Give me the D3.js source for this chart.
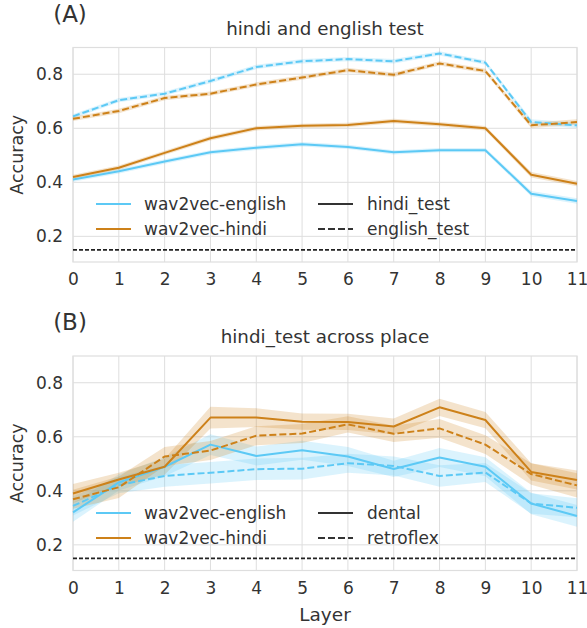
<!DOCTYPE html>
<html>
<head>
<meta charset="utf-8">
<script src="https://cdn.jsdelivr.net/npm/d3@7/dist/d3.min.js"></script>
<style>
  html, body { margin: 0; padding: 0; background: #fff; }
  svg { display: block; font-family: "DejaVu Sans", sans-serif; }
</style>
</head>
<body>
<svg id="chart" width="587" height="628"></svg>
<script>
// ---------- data ----------
const layers = [0, 1, 2, 3, 4, 5, 6, 7, 8, 9, 10, 11];
const yTicks = [0.2, 0.4, 0.6, 0.8];
const chance = 0.15;
const models = ["wav2vec-english", "wav2vec-hindi"];

// Panel A: hindi and english test
const testsA = ["hindi_test", "english_test"];
const engHindiTest   = [0.410, 0.441, 0.477, 0.511, 0.528, 0.541, 0.531, 0.511, 0.519, 0.519, 0.358, 0.331];
const hinHindiTest   = [0.420, 0.454, 0.509, 0.563, 0.600, 0.609, 0.612, 0.627, 0.615, 0.600, 0.428, 0.395];
const engEnglishTest = [0.644, 0.704, 0.728, 0.775, 0.827, 0.848, 0.856, 0.848, 0.877, 0.843, 0.623, 0.611];
const hinEnglishTest = [0.635, 0.664, 0.712, 0.728, 0.762, 0.788, 0.815, 0.798, 0.840, 0.812, 0.611, 0.623];
const ciA = [0.008, 0.008, 0.008, 0.008, 0.008, 0.008, 0.008, 0.008, 0.008, 0.008, 0.010, 0.010];

// Panel B: hindi_test across place
const placesB = ["dental", "retroflex"];
const engDental    = [0.320, 0.431, 0.489, 0.571, 0.529, 0.550, 0.527, 0.481, 0.523, 0.489, 0.353, 0.307];
const engRetroflex = [0.344, 0.421, 0.455, 0.467, 0.480, 0.482, 0.502, 0.492, 0.455, 0.468, 0.353, 0.337];
const hinDental    = [0.390, 0.442, 0.489, 0.671, 0.671, 0.656, 0.655, 0.638, 0.709, 0.662, 0.470, 0.440];
const hinRetroflex = [0.369, 0.413, 0.527, 0.549, 0.604, 0.612, 0.646, 0.611, 0.631, 0.571, 0.462, 0.420];
const ciEngDental    = [0.035, 0.030, 0.035, 0.038, 0.035, 0.035, 0.035, 0.030, 0.035, 0.035, 0.040, 0.040];
const ciEngRetroflex = [0.035, 0.030, 0.040, 0.040, 0.040, 0.040, 0.035, 0.035, 0.040, 0.035, 0.038, 0.035];
const ciHinDental    = [0.035, 0.025, 0.030, 0.040, 0.035, 0.030, 0.030, 0.030, 0.032, 0.030, 0.032, 0.035];
const ciHinRetroflex = [0.035, 0.040, 0.035, 0.035, 0.035, 0.035, 0.030, 0.030, 0.035, 0.035, 0.040, 0.045];

// ---------- style ----------
const colors = { "wav2vec-english": "#5cc9f5", "wav2vec-hindi": "#cd8119" };
const gridColor = "#dedede";
const textColor = "#333333";

const svg = d3.select("#chart");
const x = d3.scaleLinear().domain([0, 11]).range([73, 577]);

function panel(cfg) {
  const y = d3.scaleLinear().domain([0.105, 0.899]).range([cfg.bottom, cfg.top]);
  const g = svg.append("g");

  // grid
  g.append("g").selectAll("line.vg").data(layers).join("line")
    .attr("x1", d => x(d)).attr("x2", d => x(d))
    .attr("y1", cfg.top).attr("y2", cfg.bottom)
    .attr("stroke", gridColor).attr("stroke-width", 1);
  g.append("g").selectAll("line.hg").data(yTicks).join("line")
    .attr("x1", x(0)).attr("x2", x(11))
    .attr("y1", d => y(d)).attr("y2", d => y(d))
    .attr("stroke", gridColor).attr("stroke-width", 1);
  // frame
  g.append("rect").attr("x", x(0)).attr("y", cfg.top)
    .attr("width", x(11) - x(0)).attr("height", cfg.bottom - cfg.top)
    .attr("fill", "none").attr("stroke", gridColor).attr("stroke-width", 1.2);

  // axes (tick labels only)
  const xa = g.append("g").attr("transform", `translate(0,${cfg.bottom})`)
    .call(d3.axisBottom(x).tickValues(layers).tickFormat(d3.format("d")).tickSize(0).tickPadding(11));
  xa.select(".domain").remove();
  xa.selectAll("text").attr("font-size", 17).attr("fill", textColor).attr("font-family", "DejaVu Sans");

  const ya = g.append("g").attr("transform", `translate(${x(0)},0)`)
    .call(d3.axisLeft(y).tickValues(yTicks).tickFormat(d3.format(".1f")).tickSize(0).tickPadding(10));
  ya.select(".domain").remove();
  ya.selectAll("text").attr("font-size", 17).attr("fill", textColor).attr("font-family", "DejaVu Sans");

  // y label
  g.append("text").attr("transform", `translate(23,${(cfg.top + cfg.bottom) / 2}) rotate(-90)`)
    .attr("text-anchor", "middle").attr("font-size", 17.5).attr("fill", textColor).text("Accuracy");

  // panel letter and title
  g.append("text").attr("x", 70).attr("y", cfg.top - 26).attr("text-anchor", "middle")
    .attr("font-size", 23).attr("fill", textColor).text(cfg.letter);
  g.append("text").attr("x", (x(0) + x(11)) / 2).attr("y", cfg.top - 13).attr("text-anchor", "middle")
    .attr("font-size", 18.3).attr("fill", textColor).text(cfg.title);

  // chance line
  g.append("line").attr("x1", x(0)).attr("x2", x(11))
    .attr("y1", y(chance)).attr("y2", y(chance))
    .attr("stroke", "#222").attr("stroke-width", 1.7).attr("stroke-dasharray", "4,2");

  const area = d3.area().x((d, i) => x(layers[i]))
    .y0(d => y(d.v - d.c)).y1(d => y(d.v + d.c));
  const line = d3.line().x((d, i) => x(layers[i])).y(d => y(d.v));

  // bands
  cfg.series.forEach(s => {
    const pts = s.values.map((v, i) => ({ v, c: s.ci[i] }));
    g.append("path").datum(pts).attr("d", area)
      .attr("fill", colors[s.model]).attr("fill-opacity", 0.22).attr("stroke", "none");
  });
  // lines
  cfg.series.forEach(s => {
    const pts = s.values.map((v, i) => ({ v, c: s.ci[i] }));
    g.append("path").datum(pts).attr("d", line)
      .attr("fill", "none").attr("stroke", colors[s.model]).attr("stroke-width", 2)
      .attr("stroke-linejoin", "round")
      .attr("stroke-dasharray", s.dashed ? "7,3" : null);
  });

  // legend
  const lg = g.append("g");
  const rows = [cfg.legendY, cfg.legendY + 25];
  models.forEach((m, i) => {
    lg.append("line").attr("x1", 96).attr("x2", 131).attr("y1", rows[i]).attr("y2", rows[i])
      .attr("stroke", colors[m]).attr("stroke-width", 2);
    lg.append("text").attr("x", 144).attr("y", rows[i]).attr("dy", "0.35em")
      .attr("font-size", 17).attr("fill", textColor).text(m);
  });
  cfg.styleNames.forEach((n, i) => {
    lg.append("line").attr("x1", 318).attr("x2", 353).attr("y1", rows[i]).attr("y2", rows[i])
      .attr("stroke", "#333").attr("stroke-width", 2)
      .attr("stroke-dasharray", i === 1 ? "7,3" : null);
    lg.append("text").attr("x", 367).attr("y", rows[i]).attr("dy", "0.35em")
      .attr("font-size", 17).attr("fill", textColor).text(n);
  });
}

panel({
  top: 47.5, bottom: 262, letter: "(A)", title: "hindi and english test",
  legendY: 204, styleNames: testsA,
  series: [
    { model: "wav2vec-english", dashed: false, values: engHindiTest, ci: ciA },
    { model: "wav2vec-hindi",   dashed: false, values: hinHindiTest, ci: ciA },
    { model: "wav2vec-english", dashed: true,  values: engEnglishTest, ci: ciA },
    { model: "wav2vec-hindi",   dashed: true,  values: hinEnglishTest, ci: ciA }
  ]
});

panel({
  top: 356, bottom: 570.5, letter: "(B)", title: "hindi_test across place",
  legendY: 513, styleNames: placesB,
  series: [
    { model: "wav2vec-english", dashed: false, values: engDental, ci: ciEngDental },
    { model: "wav2vec-hindi",   dashed: false, values: hinDental, ci: ciHinDental },
    { model: "wav2vec-english", dashed: true,  values: engRetroflex, ci: ciEngRetroflex },
    { model: "wav2vec-hindi",   dashed: true,  values: hinRetroflex, ci: ciHinRetroflex }
  ]
});

// x label
svg.append("text").attr("x", (x(0) + x(11)) / 2).attr("y", 615).attr("dy", "0.35em")
  .attr("text-anchor", "middle").attr("font-size", 18.5).attr("fill", textColor).text("Layer");
</script>
</body>
</html>
